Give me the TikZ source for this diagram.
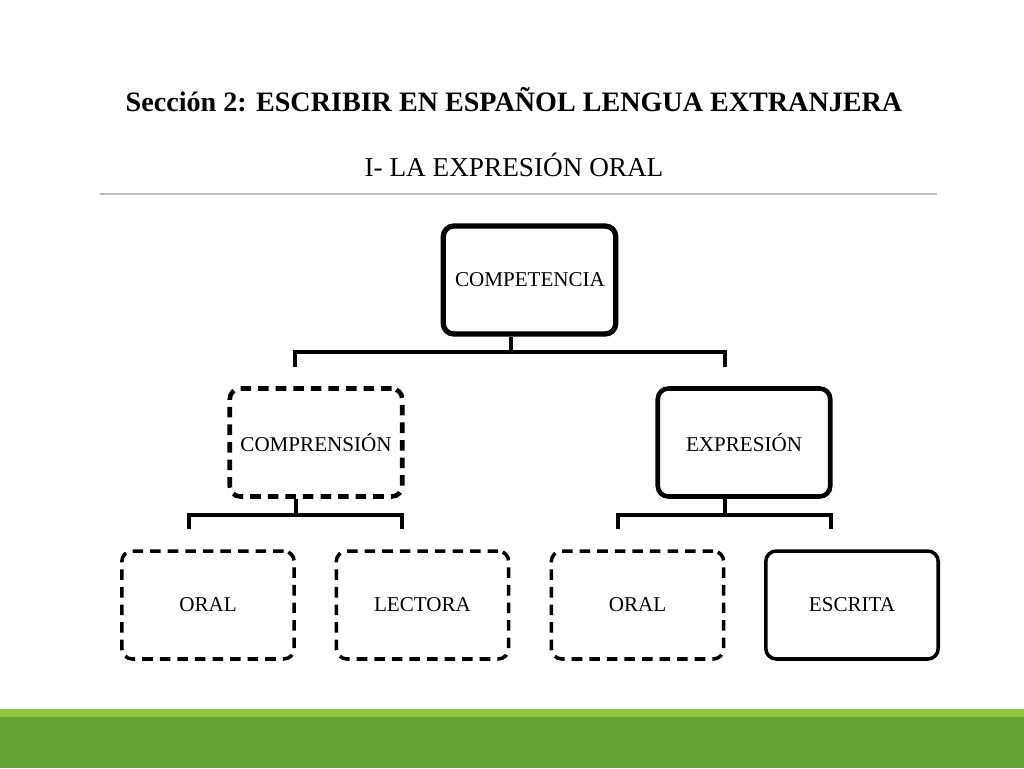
\documentclass[tikz,border=0pt]{standalone}
\usepackage{fontspec}
\setmainfont{Liberation Serif}
\definecolor{barlight}{HTML}{8DC63F}
\definecolor{bardark}{HTML}{62A534}
\begin{document}
\begin{tikzpicture}[x=0.02cm,y=-0.02cm,
            every node/.style = {font=\fontsize{12}{14}\selectfont},
            box/.style = {draw, line width=2.6pt, rounded corners=6pt, minimum width=3.45cm, minimum height=2.16cm, inner sep=0pt},
            leaf/.style = {box, line width=2pt},
            dash box/.style = {dash pattern=on 6pt off 4pt},
            link/.style = {line width=2.4pt}
        ]
        \useasboundingbox (0,0) rectangle (1024,768);
        \fill[barlight] (0,709) rectangle (1024,717);
        \fill[bardark] (0,717) rectangle (1024,768);
        \node[draw=none, font=\fontsize{16}{19}\selectfont\bfseries] (title) at (514,100) {Sección 2: ESCRIBIR EN ESPAÑOL LENGUA EXTRANJERA};
        \node[draw=none, font=\fontsize{15.5}{18}\selectfont] (sub) at (514,165) {I- LA EXPRESIÓN ORAL};
        \draw[gray!50, line width=0.6pt] (100,194) -- (937,194);
        % boxes
        \node[box, line width=3pt] (C1) at (529.5,280) {};
        \node at (530,280) {COMPETENCIA};
        \node[box, dash box] (B1) at (316,442.5) {COMPRENSIÓN};
        \node[box] (B2) at (744,442.5) {EXPRESIÓN};
        \node[leaf, dash box] (D1) at (208,605) {ORAL};
        \node[leaf, dash box] (D2) at (422.5,605) {LECTORA};
        \node[leaf, dash box] (D3) at (637.5,605) {ORAL};
        \node[leaf] (D4) at (852,605) {ESCRITA};
        % connectors
        \coordinate (J1) at (511,352);
        \coordinate (E1) at (295,367);
        \coordinate (E2) at (725,367);
        \coordinate (J2) at (296,515);
        \coordinate (J3) at (725,515);
        \draw[link] (J1 |- C1.south) -- (J1);
        \draw[link] (E1) |- (J1) -| (E2);
        \draw[link] (J2 |- B1.south) -- (J2);
        \draw[link] (189,529) |- (J2) -| (402,529);
        \draw[link] (J3 |- B2.south) -- (J3);
        \draw[link] (618,529) |- (J3) -| (831,529);
    \end{tikzpicture}
\end{document}
